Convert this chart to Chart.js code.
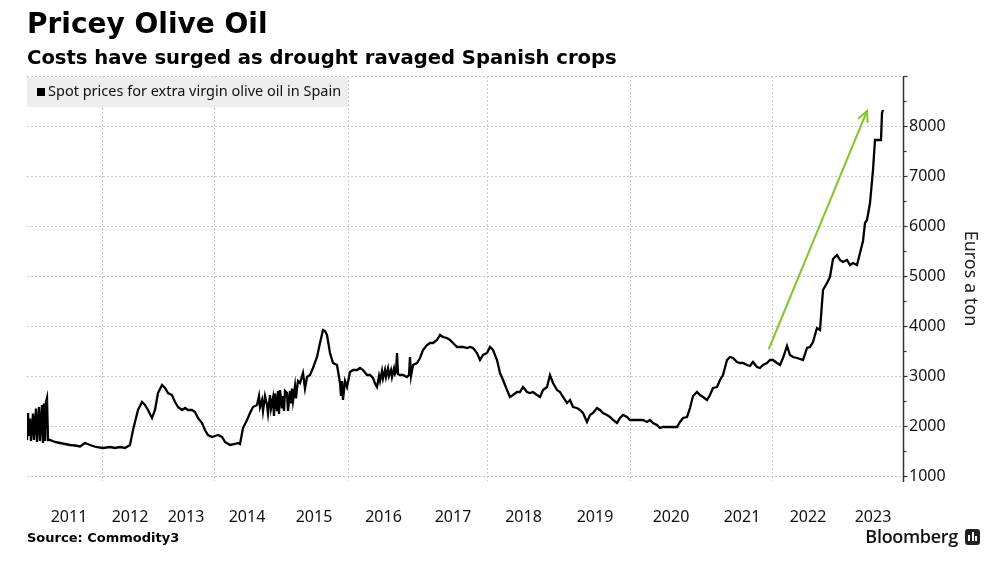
<!DOCTYPE html>
<html><head><meta charset="utf-8">
<script src="https://cdn.jsdelivr.net/npm/chart.js@4/dist/chart.umd.min.js"></script>
<style>
html,body{margin:0;padding:0;background:#fff;}
#wrap{position:relative;width:1000px;height:571px;overflow:hidden;background:#fff;}
#c{position:absolute;left:0;top:0;}
.t{position:absolute;left:27px;font-family:"DejaVu Sans",sans-serif;font-weight:bold;color:#000;white-space:nowrap;}
#bb{position:absolute;right:42px;top:524px;font-family:"Open Sans",sans-serif;font-weight:600;font-size:18px;color:#111;letter-spacing:-0.3px;}
#ico{position:absolute;left:965px;top:529px;width:15px;height:16px;background:#222;border-radius:3px;}
#ico i{position:absolute;bottom:4px;width:2px;background:#fff;}
</style></head><body>
<div id="wrap">
<canvas id="c" width="1000" height="571"></canvas>
<div class="t" style="top:7px;font-size:28px;line-height:34px;">Pricey Olive Oil</div>
<div class="t" style="top:46px;font-size:19.6px;line-height:24px;">Costs have surged as drought ravaged Spanish crops</div>
<div class="t" style="top:529px;font-size:13px;line-height:18px;">Source: Commodity3</div>
<div id="bb">Bloomberg</div>
<div id="ico"><i style="left:3px;height:6px"></i><i style="left:6.5px;height:9px"></i><i style="left:10px;height:5px"></i></div>
</div>
<script>
// ---- data (x = observation number along Bloomberg's trading-day axis) ----
const obsIndex = [0,1,2,3,4,6,7,9,10,12,13,15,16,17,18,19,20,21,23,28,33,38,43,48,53,58,63,69,76,83,88,93,98,103,106,109,111,115,118,121,125,128,131,135,138,141,145,148,151,155,158,161,165,168,171,175,178,181,185,188,191,195,198,203,208,211,213,216,220,223,226,
230,232,233,235,236,238,240,241,243,244,246,247,248,250,251,252,253,255,256,257,258,260,261,263,264,265,266,268,269,270,271,
273,276,278,280,283,286,290,293,296,298,300,303,306,310,313,314,315,316,318,320,323,326,330,333,336,340,343,
346,348,350,352,353,355,356,358,359,361,362,364,365,367,368,369,
370,371,373,376,380,382,383,384,386,390,393,396,400,403,406,410,413,416,420,423,426,430,433,436,440,443,446,450,453,456,460,463,466,470,473,476,480,483,486,490,493,496,500,503,506,510,513,516,520,523,526,530,533,536,540,543,546,550,553,556,560,563,566,570,573,576,580,583,586,590,593,596,600,603,606,610,613,616,620,623,626,630,633,636,640,643,646,650,653,656,660,663,666,670,673,676,680,683,686,690,693,696,700,703,706,710,713,716,720,723,726,730,733,736,740,743,746,750,753,756,760,763,766,770,773,776,780,783,786,790,793,796,800,803,806,810,813,816,820,823,826,830,833,836,838,840,843,846,848,851,854,855,856];
const prices = [1720,2260,1800,2150,1700,2250,1720,2350,1680,2380,1700,2420,1660,2450,1700,2480,2560,1720,1720,1680,1660,1640,1620,1610,1590,1660,1620,1580,1560,1580,1560,1580,1560,1620,1920,2160,2320,2480,2420,2320,2160,2320,2660,2820,2760,2660,2620,2480,2380,2320,2360,2320,2320,2280,2160,2060,1920,1820,1780,1800,1820,1780,1680,1620,1640,1660,1640,1960,2120,2260,2380,
2420,2600,2380,2520,2300,2600,2420,2250,2620,2350,2560,2200,2650,2300,2700,2240,2720,2350,2600,2300,2700,2660,2300,2700,2450,2750,2500,2800,2550,2750,2900,
2860,3060,2750,2980,3020,3160,3380,3660,3920,3900,3820,3460,3260,3220,2860,2600,2900,2520,2900,2780,3080,3120,3120,3160,3120,3020,3020,
2960,2850,2780,3000,2900,3100,2950,3120,2980,3150,3000,3120,2980,3150,3040,3080,
3460,3040,3020,3020,2980,3020,3380,3000,3220,3260,3360,3520,3620,3660,3660,3720,3820,3780,3760,3720,3660,3580,3580,3580,3560,3580,3560,3460,3320,3420,3460,3580,3520,3320,3060,2920,2720,2580,2620,2680,2680,2780,2680,2660,2680,2620,2580,2720,2780,3020,2860,2720,2680,2580,2460,2520,2380,2360,2320,2260,2080,2220,2260,2360,2320,2260,2220,2180,2120,2060,2160,2220,2180,2120,2120,2120,2120,2120,2080,2120,2060,2020,1960,1980,1980,1980,1980,1980,2080,2160,2180,2360,2600,2680,2620,2580,2520,2620,2760,2780,2920,3020,3320,3380,3360,3280,3260,3260,3220,3200,3280,3180,3160,3220,3260,3320,3320,3260,3220,3360,3600,3420,3380,3360,3340,3320,3560,3580,3680,3960,3920,4720,4860,4980,5340,5420,5320,5280,5320,5220,5260,5220,5460,5700,6060,6120,6460,7120,7720,7720,7720,8260,8320];
const years = ['2011','2012','2013','2014','2015','2016','2017','2018','2019','2020','2021','2022','2023'];
const yearStarts = [9,75,131,187,253,321,392,460,533,603,685,745,817,875]; // observation where each year begins (2011..2024)
const yTicks = [1000,2000,3000,4000,5000,6000,7000,8000,9000];
const seriesName = 'Spot prices for extra virgin olive oil in Spain';
const axisTitle = 'Euros a ton';
const arrowFrom = [742, 3550];
const arrowTo = [840, 8300];

const evenStarts = yearStarts.filter((v,i)=> (2011+i)%2===0 && i<13);
const yearMids = years.map((y,i)=> (yearStarts[i]+yearStarts[i+1])/2);

const extras = {
  id:'extras',
  beforeDatasetsDraw(chart){
    const {ctx, chartArea:a} = chart;
    ctx.save();
    ctx.fillStyle = '#eeeeee';
    ctx.fillRect(a.left, a.top+1, 321, 30);
    ctx.fillStyle = '#000';
    ctx.fillRect(a.left+10, a.top+12, 8, 8);
    ctx.font = '14.5px "Noto Sans"';
    ctx.textBaseline = 'middle';
    ctx.fillStyle = '#111';
    ctx.fillText(seriesName, a.left+21, a.top+16, 294);
    ctx.restore();
  },
  afterDatasetsDraw(chart){
    const {ctx, scales:{x,y}} = chart;
    const x0 = x.getPixelForValue(arrowFrom[0]), y0 = y.getPixelForValue(arrowFrom[1]);
    const x1 = x.getPixelForValue(arrowTo[0]), y1 = y.getPixelForValue(arrowTo[1]);
    const ang = Math.atan2(y1-y0, x1-x0);
    ctx.save();
    ctx.strokeStyle = '#84c62e';
    ctx.lineWidth = 2;
    ctx.lineCap = 'round';
    ctx.beginPath(); ctx.moveTo(x0,y0); ctx.lineTo(x1,y1); ctx.stroke();
    ctx.beginPath();
    const L = 11, sp = 0.45;
    ctx.moveTo(x1 - L*Math.cos(ang-sp), y1 - L*Math.sin(ang-sp));
    ctx.lineTo(x1,y1);
    ctx.lineTo(x1 - L*Math.cos(ang+sp), y1 - L*Math.sin(ang+sp));
    ctx.stroke();
    ctx.restore();
  },
  afterDraw(chart){
    const {ctx, chartArea:a, scales:{y}} = chart;
    ctx.save();
    ctx.strokeStyle = '#333';
    ctx.lineWidth = 1.5;
    const ax = Math.round(a.right)+0.5;
    ctx.beginPath(); ctx.moveTo(ax, a.top); ctx.lineTo(ax, a.bottom+1); ctx.stroke();
    ctx.lineWidth = 1.2;
    for (let v = 1000; v <= 9000; v += 500){
      const py = Math.round(y.getPixelForValue(v))+0.5;
      const len = v%1000===0 ? 4 : 3;
      ctx.beginPath(); ctx.moveTo(ax, py); ctx.lineTo(ax+len, py); ctx.stroke();
    }
    ctx.translate(970, (a.top+a.bottom)/2);
    ctx.rotate(Math.PI/2);
    ctx.font = '18px "Noto Sans"';
    ctx.fillStyle = '#222';
    ctx.textAlign = 'center';
    ctx.textBaseline = 'middle';
    ctx.fillText(axisTitle, 0, 0);
    ctx.restore();
  }
};

new Chart(document.getElementById('c'), {
  type:'line',
  data:{datasets:[{
    label: seriesName,
    data: obsIndex.map((xv,i)=>({x:xv, y:prices[i]})),
    borderColor:'#000', borderWidth:2.3, pointRadius:0, tension:0, fill:false
  }]},
  options:{
    responsive:false, animation:false,
    layout:{padding:{left:27, top:76, right:0, bottom:0}},
    plugins:{legend:{display:false}, tooltip:{enabled:false}, title:{display:false}},
    scales:{
      x:{
        type:'linear', min:0, max:876,
        afterBuildTicks(s){ s.ticks = yearStarts.slice(0,13).map(v=>({value:v})).concat(yearMids.map(v=>({value:v}))).sort((p,q)=>p.value-q.value); },
        afterFit(s){ s.height = 90; },
        grid:{ drawTicks:false, color: c => (c.tick && evenStarts.includes(c.tick.value)) ? '#c8c8c8' : 'rgba(0,0,0,0)', lineWidth:1 },
        border:{ display:false, dash:[2,2] },
        ticks:{ autoSkip:false, maxRotation:0, padding:27, color:'#111', font:{family:'"Noto Sans"', size:16},
          callback(v){ const i = yearMids.indexOf(v); return i>=0 ? years[i] : ''; } }
      },
      y:{
        type:'linear', position:'right', min:900, max:9000,
        afterBuildTicks(s){ s.ticks = yTicks.map(v=>({value:v})); },
        afterFit(s){ s.width = 97; },
        grid:{ drawTicks:false, color:'#c8c8c8', lineWidth:1 },
        border:{ display:false, dash:[2,2] },
        ticks:{ padding:6, color:'#111', font:{family:'"Noto Sans"', size:16},
          callback(v){ return v===9000 ? '' : String(v); } }
      }
    }
  },
  plugins:[extras]
});
</script>
</body></html>
